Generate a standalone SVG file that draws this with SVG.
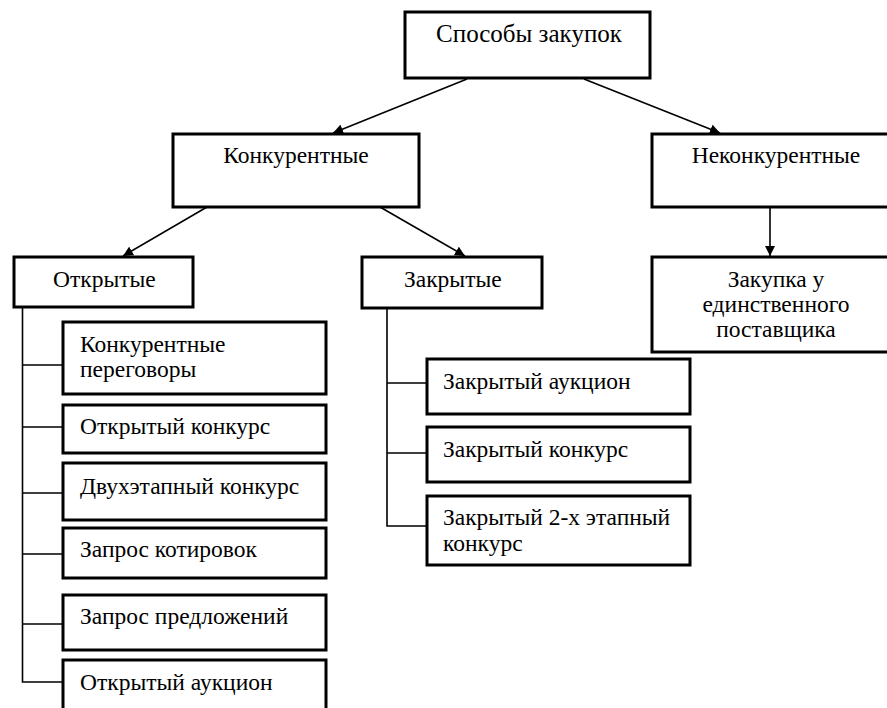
<svg xmlns="http://www.w3.org/2000/svg" width="887" height="708" viewBox="0 0 887 708">
<style>
  .box { fill: #ffffff; stroke: #000000; stroke-width: 3; }
  .t { font-family: "Liberation Serif", "Times New Roman", serif; font-size: 23.5px; fill: #000000; }
  .m { text-anchor: middle; }
  .big { font-size: 25px; }
  .ln { fill: none; stroke: #000000; stroke-width: 1.6; }
</style>
<defs>
  <marker id="ah" viewBox="0 0 10 10" refX="10" refY="5" markerWidth="10" markerHeight="10" markerUnits="userSpaceOnUse" orient="auto">
    <path d="M0,0 L10,5 L0,10 z" fill="#000000"/>
  </marker>
</defs>
<rect x="0" y="0" width="887" height="708" fill="#ffffff"/>

<g id="connectors">
  <line class="ln" x1="467" y1="79" x2="333" y2="133" marker-end="url(#ah)"/>
  <line class="ln" x1="584" y1="79" x2="720" y2="133" marker-end="url(#ah)"/>
  <line class="ln" x1="207" y1="207" x2="123" y2="256" marker-end="url(#ah)"/>
  <line class="ln" x1="380" y1="207" x2="465" y2="256" marker-end="url(#ah)"/>
  <line class="ln" x1="770" y1="207" x2="770" y2="256" marker-end="url(#ah)"/>
  <path class="ln" d="M22.5 307 V682 H63 M22.5 365 H63 M22.5 427 H63 M22.5 493 H63 M22.5 554 H63 M22.5 624 H63"/>
  <path class="ln" d="M387 308 V526 H427 M387 383 H427 M387 453 H427"/>
</g>

<g id="n-root"><rect class="box" x="405" y="12" width="245" height="66"/><text class="t m big" x="529" y="42">Способы закупок</text></g>
<g id="n-konk"><rect class="box" x="173" y="134" width="246" height="73"/><text class="t m" x="296" y="163">Конкурентные</text></g>
<g id="n-nekonk"><rect class="box" x="652" y="134" width="240" height="73"/><text class="t m" x="776" y="163">Неконкурентные</text></g>
<g id="n-open"><rect class="box" x="14" y="257" width="179" height="50"/><text class="t" x="53" y="287">Открытые</text></g>
<g id="n-closed"><rect class="box" x="362" y="257" width="180" height="51"/><text class="t" x="404" y="287">Закрытые</text></g>
<g id="n-single"><rect class="box" x="652" y="257" width="240" height="95"/><text class="t m" x="776" y="287">Закупка у</text><text class="t m" x="776" y="312">единственного</text><text class="t m" x="776" y="337">поставщика</text></g>

<g id="n-o1"><rect class="box" x="63" y="322" width="263" height="72"/><text class="t" x="80" y="352">Конкурентные</text><text class="t" x="80" y="377">переговоры</text></g>
<g id="n-o2"><rect class="box" x="63" y="405" width="263" height="48"/><text class="t" x="80" y="434">Открытый конкурс</text></g>
<g id="n-o3"><rect class="box" x="63" y="463" width="263" height="57"/><text class="t" x="80" y="494">Двухэтапный конкурс</text></g>
<g id="n-o4"><rect class="box" x="63" y="528" width="263" height="50"/><text class="t" x="80" y="557">Запрос котировок</text></g>
<g id="n-o5"><rect class="box" x="63" y="595" width="263" height="55"/><text class="t" x="80" y="624">Запрос предложений</text></g>
<g id="n-o6"><rect class="box" x="63" y="660" width="263" height="60"/><text class="t" x="80" y="690">Открытый аукцион</text></g>

<g id="n-c1"><rect class="box" x="427" y="359" width="263" height="55"/><text class="t" x="443" y="389">Закрытый аукцион</text></g>
<g id="n-c2"><rect class="box" x="427" y="427" width="263" height="55"/><text class="t" x="443" y="457">Закрытый конкурс</text></g>
<g id="n-c3"><rect class="box" x="427" y="496" width="263" height="69"/><text class="t" x="443" y="525">Закрытый 2-х этапный</text><text class="t" x="443" y="551">конкурс</text></g>
</svg>
